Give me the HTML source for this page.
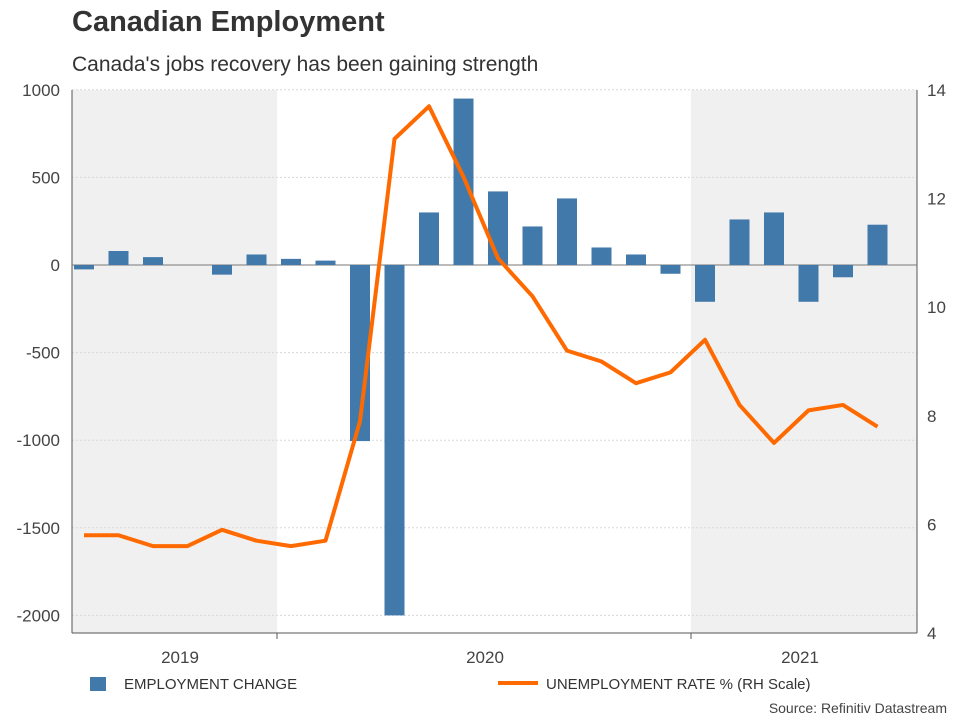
<!DOCTYPE html>
<html><head><meta charset="utf-8"><style>
body{margin:0;background:#fff;font-family:"Liberation Sans",Arial,sans-serif;}
svg{display:block}
</style></head><body>
<svg id="c" width="960" height="720"></svg>
<script>
const months=["Jul19","Aug19","Sep19","Oct19","Nov19","Dec19","Jan20","Feb20","Mar20","Apr20","May20","Jun20","Jul20","Aug20","Sep20","Oct20","Nov20","Dec20","Jan21","Feb21","Mar21","Apr21","May21","Jun21"];
const empChange=[-25,80,45,0,-55,60,35,25,-1005,-2000,300,950,420,220,380,100,60,-50,-210,260,300,-210,-70,230];
const unempRate=[5.8,5.8,5.6,5.6,5.9,5.7,5.6,5.7,7.9,13.1,13.7,12.4,10.9,10.2,9.2,9.0,8.6,8.8,9.4,8.2,7.5,8.1,8.2,7.8];
const leftTicks=[1000,500,0,-500,-1000,-1500,-2000];
const rightTicks=[14,12,10,8,6,4];
const yearLabels=["2019","2020","2021"];

const NS="http://www.w3.org/2000/svg",svg=document.getElementById('c');
function mk(t,a,p){const e=document.createElementNS(NS,t);for(const k in a)e.setAttribute(k,a[k]);(p||svg).appendChild(e);return e;}
const X0=72,X1=917,Y0=90,Y1=633;
const step=34.5;
const xM=i=>X0+12+i*step;
const yL=v=>265-v*0.1752;
const yR=v=>Y0+(14-v)*(Y1-Y0)/10;

let s1=mk('rect',{x:X0,y:Y0,width:277-X0,height:Y1-Y0,fill:'#f0f0f0'});

let s2=mk('rect',{x:691,y:Y0,width:X1-691,height:Y1-Y0,fill:'#f0f0f0'});

leftTicks.forEach(v=>{let g=mk('line',{x1:X0,x2:X1,y1:yL(v),y2:yL(v),stroke:'#d8d8d8','stroke-dasharray':'2,2'});

let t=mk('text',{x:60,y:yL(v)+6,'text-anchor':'end','font-size':17,fill:'#444'});t.textContent=v;
});
rightTicks.forEach(v=>{let t=mk('text',{x:927,y:yR(v)+6,'font-size':17,fill:'#444'});t.textContent=v;
});
mk('line',{x1:X0,x2:X0,y1:Y0,y2:Y1,stroke:'#555'});
mk('line',{x1:X1,x2:X1,y1:Y0,y2:Y1,stroke:'#555'});
mk('line',{x1:X0,x2:X1,y1:Y1,y2:Y1,stroke:'#555'});
mk('line',{x1:X0,x2:X1,y1:265,y2:265,stroke:'#777'});
[277,691].forEach(x=>mk('line',{x1:x,x2:x,y1:Y1,y2:Y1+6,stroke:'#555'}));
[180,485,800].forEach((x,i)=>{let t=mk('text',{x:x,y:663,'text-anchor':'middle','font-size':17,fill:'#444'});t.textContent=yearLabels[i];
});
empChange.forEach((v,i)=>{const y=Math.min(yL(v),yL(0)),h=Math.abs(yL(v)-yL(0));
let b=mk('rect',{x:xM(i)-10,y:y,width:20,height:h,fill:'#4279ab'});
});
let p=mk('polyline',{points:unempRate.map((v,i)=>xM(i)+','+yR(v)).join(' '),fill:'none',stroke:'#ff6a00','stroke-width':4,'stroke-linejoin':'round'});

</script>
<div style="position:absolute;left:72px;top:6px;font-size:29px;font-weight:bold;color:#333">Canadian Employment</div>
<div style="position:absolute;left:72px;top:53px;font-size:21px;color:#333">Canada's jobs recovery has been gaining strength</div>
<div style="position:absolute;left:90px;top:676px;font-size:15px;color:#333"><span style="display:inline-block;width:16px;height:14px;background:#4279ab;vertical-align:-2px;margin-right:18px"></span>EMPLOYMENT CHANGE</div>
<div style="position:absolute;left:498px;top:676px;font-size:15px;color:#333"><span style="display:inline-block;width:40px;height:4px;background:#ff6a00;vertical-align:4px;margin-right:8px"></span>UNEMPLOYMENT RATE % (RH Scale)</div>
<div style="position:absolute;right:13px;top:700px;font-size:14px;color:#444">Source: Refinitiv Datastream</div>
</body></html>
